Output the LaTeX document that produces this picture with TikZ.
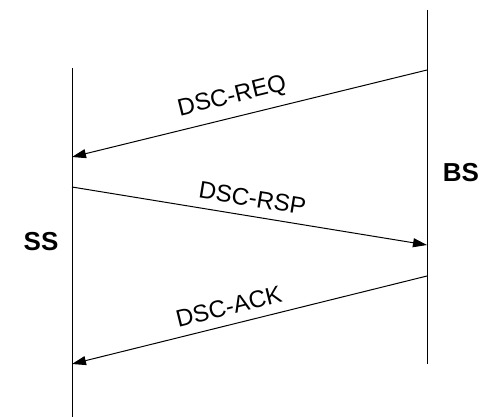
\documentclass[tikz,border=0pt]{standalone}
\usepackage{fontspec}
\setmainfont{Liberation Sans}
\usetikzlibrary{arrows.meta}
\begin{document}
\begin{tikzpicture}[x=1pt,y=-1pt,
  life/.style={line width=1pt,black},
  msg/.style={line width=1pt,black,-{Triangle[length=14pt,width=9pt]}},
  msglabel/.style={sloped,above=9pt,font=\fontsize{24}{26}\selectfont,inner sep=0pt},
  actor/.style={font=\fontsize{26}{28}\selectfont\bfseries,inner sep=0pt}]
\useasboundingbox (0,0) rectangle (485,417);
\coordinate (sstop) at (72,68);
\coordinate (ssbot) at (72,417);
\coordinate (bstop) at (427,10);
\coordinate (bsbot) at (427,364);
\draw[life] (sstop) -- (ssbot);
\draw[life] (bstop) -- (bsbot);
\node[actor] (ss) at (41,242) {SS};
\node[actor] (bs) at (461,173) {BS};
\coordinate (r1) at (427,70);
\coordinate (r2) at (72,157);
\coordinate (p1) at (72,187);
\coordinate (p2) at (427,245);
\coordinate (a1) at (427,276);
\coordinate (a2) at (72,364);
\draw[msg] (r1) -- node[msglabel,pos=0.535] (lreq) {DSC-REQ} (r2);
\draw[msg] (p1) -- node[msglabel,pos=0.5] (lrsp) {DSC-RSP} (p2);
\draw[msg] (a1) -- node[msglabel,pos=0.546] (lack) {DSC-ACK} (a2);
\end{tikzpicture}
\end{document}
